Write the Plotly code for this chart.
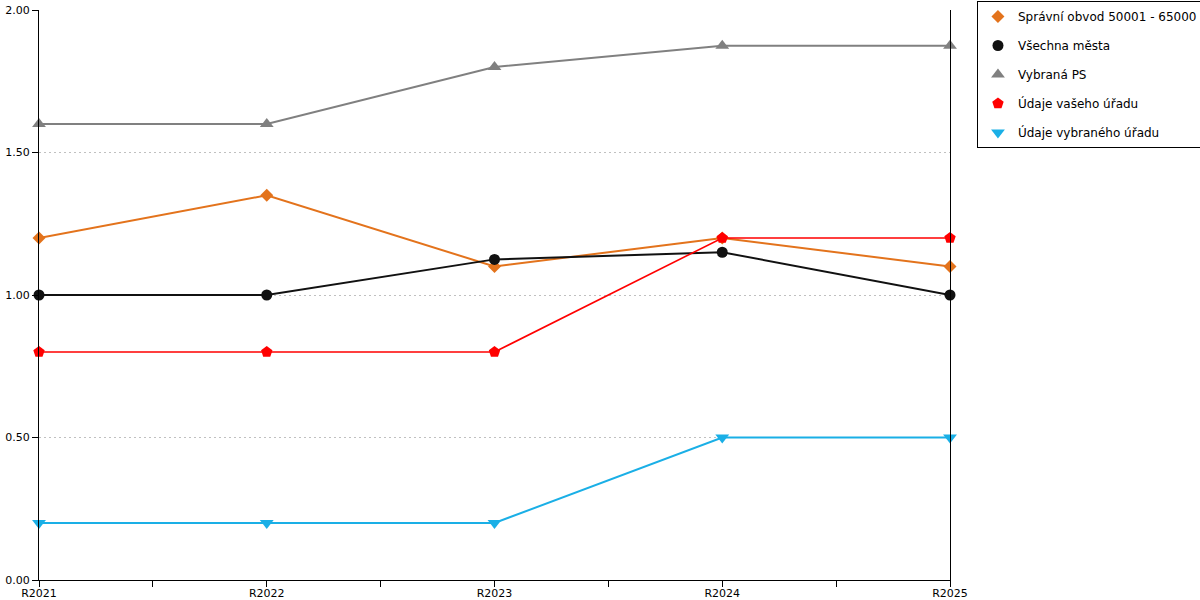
import plotly.graph_objects as go

categories = ["R2021", "R2022", "R2023", "R2024", "R2025"]
spravni_obvod = [1.2, 1.35, 1.1, 1.2, 1.1]
vsechna_mesta = [1.0, 1.0, 1.125, 1.15, 1.0]
vybrana_ps = [1.6, 1.6, 1.8, 1.875, 1.875]
udaje_vaseho = [0.8, 0.8, 0.8, 1.2, 1.2]
udaje_vybraneho = [0.2, 0.2, 0.2, 0.5, 0.5]
y_ticks = [0.0, 0.5, 1.0, 1.5, 2.0]

xpos = list(range(len(categories)))

series = [
    ("Správní obvod 50001 - 65000", spravni_obvod, "#E3731C", "diamond", 10, 2),
    ("Všechna města", vsechna_mesta, "#111111", "circle", 11, 2),
    ("Vybraná PS", vybrana_ps, "#808080", "triangle-up", 12, 2),
    ("Údaje vašeho úřadu", udaje_vaseho, "#FF0000", "pentagon", 12, 1.6),
    ("Údaje vybraného úřadu", udaje_vybraneho, "#1AAFE6", "triangle-down", 12, 2),
]

fig = go.Figure()
for i, (name, vals, color, sym, size, lw) in enumerate(series):
    fig.add_trace(go.Scatter(
        x=xpos, y=vals, name=name, mode="lines+markers",
        line=dict(color=color, width=lw),
        marker=dict(symbol=sym, size=size, color=color),
        cliponaxis=False, legendgroup=f"g{i}", showlegend=False,
    ))
# legend entries showing markers only (as in the reference)
for i, (name, vals, color, sym, size, lw) in enumerate(series):
    fig.add_trace(go.Scatter(
        x=[None], y=[None], name=name, mode="markers",
        marker=dict(symbol=sym, size=size, color=color),
        legendgroup=f"g{i}", showlegend=True,
    ))

tickvals = []
ticktext = []
for i, c in enumerate(categories):
    tickvals.append(i)
    ticktext.append(c)
    if i < len(categories) - 1:
        tickvals.append(i + 0.5)
        ticktext.append("")

fig.update_layout(
    width=1200, height=600,
    margin=dict(l=39, r=250, t=10, b=20, autoexpand=False),
    plot_bgcolor="white", paper_bgcolor="white",
    font=dict(family="DejaVu Sans", size=11, color="#000000"),
    showlegend=True,
    legend=dict(
        x=1.0296, y=1.0158, xanchor="left", yanchor="top",
        bordercolor="#000000", borderwidth=1,
        font=dict(family="DejaVu Sans", size=12),
        tracegroupgap=10,
    ),
    xaxis=dict(
        range=[0, len(categories) - 1],
        tickvals=tickvals, ticktext=ticktext,
        ticks="outside", ticklen=6, tickcolor="#000000",
        showline=True, linecolor="#000000", linewidth=1,
        showgrid=False, zeroline=False, automargin=False,
        tickfont=dict(size=11), ticklabelstandoff=-3,
    ),
    yaxis=dict(
        range=[0, 2], tickvals=y_ticks, tickformat=".2f",
        ticks="outside", ticklen=6, tickcolor="#000000",
        showline=True, linecolor="#000000", linewidth=1, mirror=True,
        showgrid=True, gridcolor="#C0C0C0", griddash="2px,3px", gridwidth=1,
        zeroline=False, automargin=False, tickfont=dict(size=11),
    ),
)

fig.write_html("out.html", config={"displayModeBar": False},
               post_script="document.body.style.margin='0';")
